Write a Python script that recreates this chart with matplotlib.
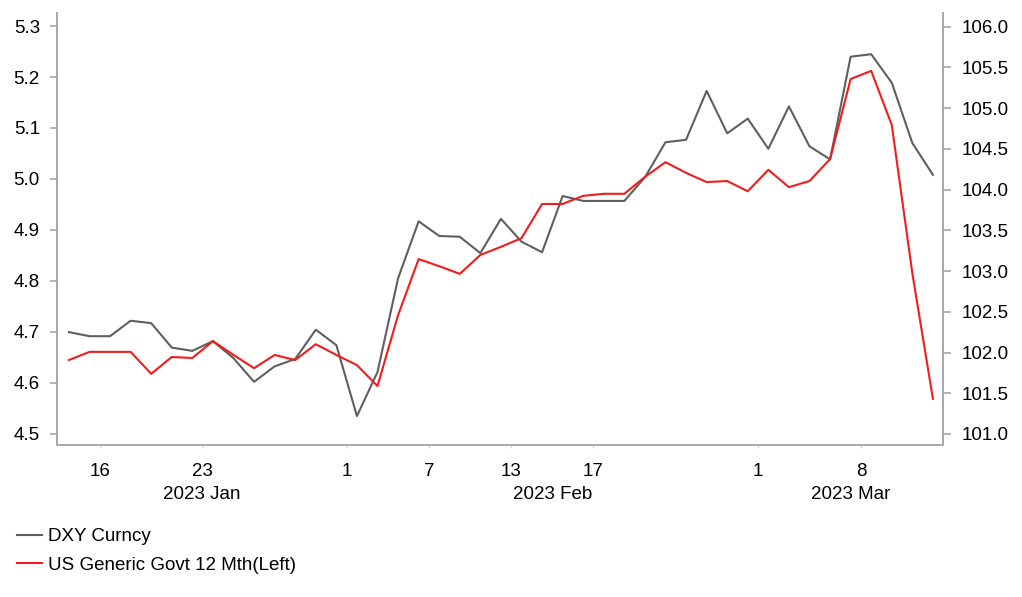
import matplotlib
matplotlib.use("Agg")
import matplotlib.pyplot as plt
from matplotlib.lines import Line2D

plt.rcParams['font.family'] = ['Liberation Sans', 'DejaVu Sans']

# business days 2023-01-12 .. 2023-03-13 (one point per day)
dxy = [102.25, 102.20, 102.20, 102.39, 102.36, 102.06, 102.02, 102.14, 101.93, 101.64,
       101.83, 101.92, 102.28, 102.09, 101.22, 101.76, 102.91, 103.61, 103.43, 103.42,
       103.22, 103.64, 103.36, 103.23, 103.92, 103.86, 103.86, 103.86, 104.15, 104.58,
       104.61, 105.21, 104.69, 104.87, 104.50, 105.02, 104.53, 104.37, 105.63, 105.66,
       105.31, 104.57, 104.18]
us12m = [4.645, 4.661, 4.661, 4.661, 4.618, 4.651, 4.649, 4.682, 4.655, 4.629,
         4.655, 4.645, 4.676, 4.655, 4.635, 4.594, 4.733, 4.843, 4.829, 4.814,
         4.851, 4.867, 4.884, 4.951, 4.951, 4.967, 4.971, 4.971, 5.004, 5.033,
         5.012, 4.994, 4.996, 4.976, 5.018, 4.984, 4.996, 5.039, 5.196, 5.212,
         5.106, 4.815, 4.569]

# day labels and the index of the point for that day
tick_days = ['16', '23', '1', '7', '13', '17', '1', '8']
tick_idx = [2, 7, 14, 18, 22, 26, 34, 39]
month_names = ['2023 Jan', '2023 Feb', '2023 Mar']
month_start_idx = [0, 14, 34]

left_ticks = [4.5, 4.6, 4.7, 4.8, 4.9, 5.0, 5.1, 5.2, 5.3]
right_ticks = [101.0, 101.5, 102.0, 102.5, 103.0, 103.5, 104.0, 104.5, 105.0, 105.5, 106.0]

GREY = '#5f5f5f'
RED = '#f21c1c'
SPINE = '#a8a8a8'
TXT = '#000000'
FS = 13.5

x = list(range(len(dxy)))
xmin, xmax = -0.58, len(dxy) - 1 + 0.49

fig = plt.figure(figsize=(10.22, 5.97), dpi=100)
ax = fig.add_axes([57 / 1022, 152 / 597, 886 / 1022, 432 / 597])
ax2 = ax.twinx()

ax2.plot(x, dxy, color=GREY, lw=1.5)
ax.plot(x, us12m, color=RED, lw=1.5)
ax.set_zorder(ax2.get_zorder() + 1)
ax.patch.set_visible(False)

ax.set_xlim(xmin, xmax)
ax.set_ylim(4.4784, 5.3255)
ax2.set_ylim(100.865, 106.166)

ax.set_yticks(left_ticks)
ax.set_yticklabels([f'{v:.1f}' for v in left_ticks])
ax2.set_yticks(right_ticks)
ax2.set_yticklabels([f'{v:.1f}' for v in right_ticks])

# day ticks sit half a step before the point
ax.set_xticks([i - 0.5 for i in tick_idx])
ax.set_xticklabels(tick_days)
ax.set_xticks([i - 0.5 for i in month_start_idx[1:]], minor=True)

for a in (ax, ax2):
    for s in a.spines.values():
        s.set_color(SPINE)
        s.set_linewidth(1.2)
    a.spines['top'].set_visible(False)

ax.tick_params(axis='x', which='major', length=2.2, color='#d0d0d0', pad=10.6,
               labelsize=FS, labelcolor=TXT)
ax.tick_params(axis='x', which='minor', length=5, color=SPINE, width=1.2)
ax.tick_params(axis='y', length=5, color=SPINE, width=1.2, pad=7.3,
               labelsize=FS, labelcolor=TXT)
ax2.tick_params(axis='y', length=6, color=SPINE, width=1.2, pad=7.5,
                labelsize=FS, labelcolor=TXT)

# month labels centred on each month's visible range
bounds = [xmin] + [i - 0.5 for i in month_start_idx[1:]] + [xmax]
for k, name in enumerate(month_names):
    cx = (bounds[k] + bounds[k + 1]) / 2
    ax.annotate(name, xy=(cx, 0), xycoords=('data', 'axes fraction'),
                xytext=(0, -41), textcoords='offset pixels',
                ha='center', va='top', fontsize=FS, color=TXT)

handles = [Line2D([], [], color=GREY, lw=1.5), Line2D([], [], color=RED, lw=1.5)]
fig.legend(handles, ['DXY Curncy', 'US Generic Govt 12 Mth(Left)'],
           loc='upper left', bbox_to_anchor=(17 / 1022, 1 - 528 / 597),
           frameon=False, fontsize=FS, handlelength=1.33, handletextpad=0.3,
           labelspacing=0.6, borderpad=0, borderaxespad=0, labelcolor=TXT)

fig.savefig('out.png', dpi=100)
